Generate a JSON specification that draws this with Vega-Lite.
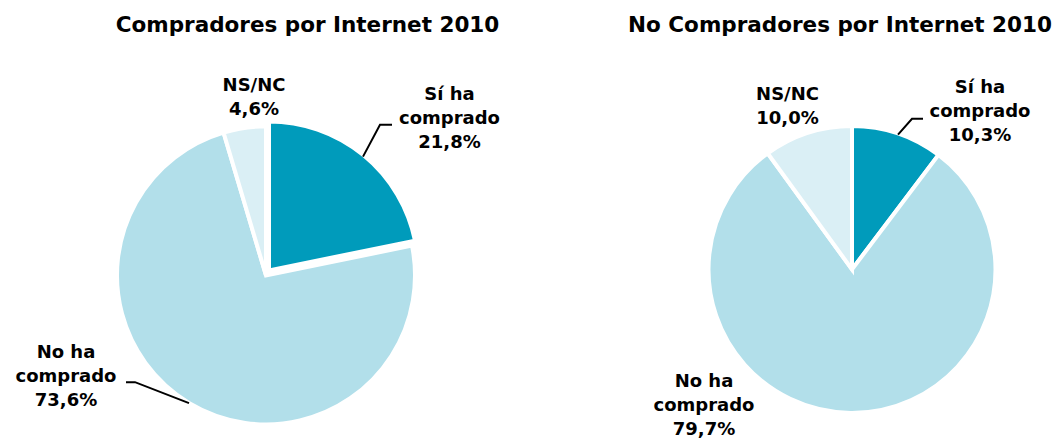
{
  "$schema": "https://vega.github.io/schema/vega-lite/v6.json",
  "width": 1055,
  "height": 439,
  "autosize": {"type": "fit", "contains": "padding"},
  "padding": 0,
  "background": "white",
  "config": {"view": {"stroke": null}},
  "datasets": {
    "slices": [
      {"chart": "Compradores", "category": "Sí ha comprado", "value": 21.8, "order": 1},
      {"chart": "Compradores", "category": "No ha comprado", "value": 73.6, "order": 2},
      {"chart": "Compradores", "category": "NS/NC", "value": 4.6, "order": 3},
      {"chart": "No Compradores", "category": "Sí ha comprado", "value": 10.3, "order": 1},
      {"chart": "No Compradores", "category": "No ha comprado", "value": 79.7, "order": 2},
      {"chart": "No Compradores", "category": "NS/NC", "value": 10.0, "order": 3}
    ],
    "labels": [
      {"x": 254, "y": 91, "text": "NS/NC\n4,6%"},
      {"x": 449.5, "y": 100, "text": "Sí ha\ncomprado\n21,8%"},
      {"x": 66, "y": 359, "text": "No ha\ncomprado\n73,6%"},
      {"x": 787.5, "y": 100, "text": "NS/NC\n10,0%"},
      {"x": 980, "y": 93, "text": "Sí ha\ncomprado\n10,3%"},
      {"x": 704, "y": 388, "text": "No ha\ncomprado\n79,7%"}
    ],
    "titles": [
      {"x": 307.5, "y": 32, "text": "Compradores por Internet 2010"},
      {"x": 840, "y": 32, "text": "No Compradores por Internet 2010"}
    ],
    "leaders": [
      {"id": "a", "i": 1, "x": 363, "y": 157},
      {"id": "a", "i": 2, "x": 380, "y": 125},
      {"id": "a", "i": 3, "x": 392, "y": 125},
      {"id": "b", "i": 1, "x": 126, "y": 383},
      {"id": "b", "i": 2, "x": 135, "y": 383},
      {"id": "b", "i": 3, "x": 189, "y": 404},
      {"id": "c", "i": 1, "x": 898, "y": 135},
      {"id": "c", "i": 2, "x": 912, "y": 119},
      {"id": "c", "i": 3, "x": 923, "y": 119}
    ]
  },
  "layer": [
    {
      "data": {"name": "slices"},
      "transform": [
        {"stack": "value", "groupby": ["chart"], "sort": [{"field": "order", "order": "ascending"}], "as": ["start", "end"]},
        {"filter": "datum.chart === 'Compradores' && datum.category !== 'Sí ha comprado'"}
      ],
      "mark": {"type": "arc", "outerRadius": 149, "stroke": "white", "strokeWidth": 4},
      "encoding": {
        "x": {"datum": 266, "type": "quantitative", "scale": {"domain": [0, 1055], "nice": false, "zero": false}, "axis": null},
        "y": {"datum": 276, "type": "quantitative", "scale": {"domain": [0, 439], "reverse": true, "nice": false, "zero": false}, "axis": null},
        "theta": {"field": "start", "type": "quantitative", "stack": null, "scale": {"domain": [0, 100]}},
        "theta2": {"field": "end"},
        "color": {"field": "category", "type": "nominal", "scale": {"domain": ["Sí ha comprado", "No ha comprado", "NS/NC"], "range": ["#009BBB", "#B2DFEA", "#DAEFF5"]}, "legend": null}
      }
    },
    {
      "data": {"name": "slices"},
      "transform": [
        {"stack": "value", "groupby": ["chart"], "sort": [{"field": "order", "order": "ascending"}], "as": ["start", "end"]},
        {"filter": "datum.chart === 'Compradores' && datum.category === 'Sí ha comprado'"}
      ],
      "mark": {"type": "arc", "outerRadius": 149, "stroke": "white", "strokeWidth": 4},
      "encoding": {
        "x": {"datum": 269, "type": "quantitative"},
        "y": {"datum": 271, "type": "quantitative"},
        "theta": {"field": "start", "type": "quantitative", "stack": null},
        "theta2": {"field": "end"},
        "color": {"field": "category", "type": "nominal", "legend": null}
      }
    },
    {
      "data": {"name": "slices"},
      "transform": [
        {"stack": "value", "groupby": ["chart"], "sort": [{"field": "order", "order": "ascending"}], "as": ["start", "end"]},
        {"filter": "datum.chart === 'No Compradores'"}
      ],
      "mark": {"type": "arc", "outerRadius": 143.5, "stroke": "white", "strokeWidth": 4},
      "encoding": {
        "x": {"datum": 852, "type": "quantitative"},
        "y": {"datum": 270, "type": "quantitative"},
        "theta": {"field": "start", "type": "quantitative", "stack": null},
        "theta2": {"field": "end"},
        "color": {"field": "category", "type": "nominal", "legend": null}
      }
    },
    {
      "data": {"name": "leaders"},
      "mark": {"type": "line", "color": "black", "strokeWidth": 2},
      "encoding": {
        "x": {"field": "x", "type": "quantitative"},
        "y": {"field": "y", "type": "quantitative"},
        "detail": {"field": "id"},
        "order": {"field": "i"}
      }
    },
    {
      "data": {"name": "labels"},
      "mark": {"type": "text", "font": "DejaVu Sans", "fontWeight": "bold", "fontSize": 18, "letterSpacing": 0.5, "align": "center", "baseline": "alphabetic", "lineBreak": "\n", "lineHeight": 24, "color": "black"},
      "encoding": {
        "x": {"field": "x", "type": "quantitative"},
        "y": {"field": "y", "type": "quantitative"},
        "text": {"field": "text"}
      }
    },
    {
      "data": {"name": "titles"},
      "mark": {"type": "text", "font": "DejaVu Sans", "fontWeight": "bold", "fontSize": 21.5, "align": "center", "baseline": "alphabetic", "color": "black"},
      "encoding": {
        "x": {"field": "x", "type": "quantitative"},
        "y": {"field": "y", "type": "quantitative"},
        "text": {"field": "text"}
      }
    }
  ]
}
